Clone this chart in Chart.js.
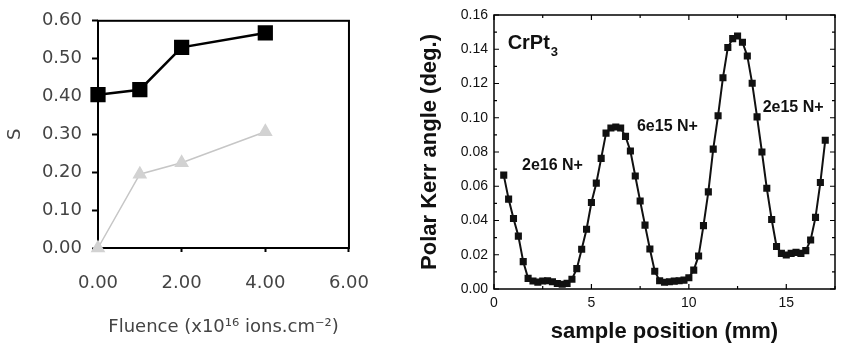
<!DOCTYPE html>
<html>
<head>
<meta charset="utf-8">
<script src="https://cdn.jsdelivr.net/npm/chart.js@4.4.1/dist/chart.umd.min.js"></script>
<style>
  body { margin: 0; background: #fff; }
  #wrap { position: relative; width: 841px; height: 347px; overflow: hidden; }
  #left { position: absolute; left: 0; top: 0; }
  #right { position: absolute; left: 390px; top: 0; }
</style>
</head>
<body>
<div id="wrap">
  <canvas id="left" width="390" height="347"></canvas>
  <canvas id="right" width="451" height="347"></canvas>
</div>
<script>
// left panel: S vs fluence
var fluence = [0, 1, 2, 4];
var sBlack = [0.405, 0.418, 0.530, 0.568];
var sGray = [0.00, 0.195, 0.225, 0.307];

// right panel: polar Kerr angle scan
var position = [0.5, 0.75, 1.0, 1.25, 1.5, 1.75, 2.0, 2.25, 2.5, 2.75,
  3.0, 3.25, 3.5, 3.75, 4.0, 4.25, 4.5, 4.75, 5.0, 5.25,
  5.5, 5.75, 6.0, 6.25, 6.5, 6.75, 7.0, 7.25, 7.5, 7.75,
  8.0, 8.25, 8.5, 8.75, 9.0, 9.25, 9.5, 9.75, 10.0, 10.25,
  10.5, 10.75, 11.0, 11.25, 11.5, 11.75, 12.0, 12.25, 12.5, 12.75,
  13.0, 13.25, 13.5, 13.75, 14.0, 14.25, 14.5, 14.75, 15.0, 15.25,
  15.5, 15.75, 16.0, 16.25, 16.5, 16.75, 17.0];
var kerr = [0.0665, 0.0525, 0.0412, 0.0309, 0.0160, 0.0062, 0.0047, 0.0040, 0.0047, 0.0048,
  0.0042, 0.0032, 0.0028, 0.0033, 0.0057, 0.0119, 0.0232, 0.0349, 0.0505, 0.0618,
  0.0763, 0.0910, 0.0940, 0.0946, 0.0940, 0.0891, 0.0806, 0.0660, 0.0514, 0.0373,
  0.0234, 0.0104, 0.0048, 0.0039, 0.0042, 0.0046, 0.0048, 0.0052, 0.0066, 0.0110,
  0.0193, 0.0370, 0.0567, 0.0817, 0.1012, 0.1234, 0.1410, 0.1462, 0.1477, 0.1441,
  0.1361, 0.1201, 0.1005, 0.0800, 0.0588, 0.0406, 0.0248, 0.0208, 0.0199, 0.0208,
  0.0214, 0.0208, 0.0224, 0.0286, 0.0418, 0.0622, 0.0869];
var doseLabels = ['2e16 N+', '6e15 N+', '2e15 N+'];

function pts(xs, ys) {
  return xs.map(function (x, i) { return { x: x, y: ys[i] }; });
}

// box around the plot area
var frame = {
  id: 'frame',
  beforeDatasetsDraw: function (chart, args, opts) {
    var ctx = chart.ctx, a = chart.chartArea;
    ctx.save();
    ctx.strokeStyle = '#000';
    ctx.lineWidth = opts.width || 2;
    ctx.strokeRect(a.left, a.top, a.right - a.left, a.bottom - a.top);
    ctx.restore();
  }
};

var grey = '#444';
var lfont = 'DejaVu Sans';

new Chart(document.getElementById('left'), {
  type: 'line',
  data: {
    datasets: [{
      data: pts(fluence, sBlack),
      borderColor: '#000',
      borderWidth: 2.5,
      pointStyle: 'rect',
      pointRadius: 9,
      pointBackgroundColor: '#000',
      pointBorderColor: '#000',
      clip: false
    }, {
      data: pts(fluence, sGray),
      borderColor: '#c6c6c6',
      borderWidth: 1.5,
      pointStyle: 'triangle',
      pointRadius: 7,
      pointBackgroundColor: '#d2d2d2',
      pointBorderColor: '#d2d2d2',
      clip: false
    }]
  },
  options: {
    responsive: false,
    animation: false,
    layout: { padding: { top: 15, right: 41, left: 0, bottom: 0 } },
    plugins: { legend: { display: false }, tooltip: { enabled: false }, frame: { width: 2 } },
    scales: {
      x: {
        type: 'linear', min: 0, max: 6,
        afterFit: function (s) { s.height = 99; },
        ticks: { stepSize: 2, padding: 21, color: grey, font: { family: lfont, size: 18 },
          callback: function (v) { return v.toFixed(2); } },
        grid: { drawOnChartArea: false, tickLength: 4, color: '#000', tickWidth: 2 },
        border: { display: false },
        title: { display: true, text: 'Fluence (x10¹⁶ ions.cm⁻²)', color: grey,
          font: { family: lfont, size: 18 }, padding: { top: 0, bottom: 9 } }
      },
      y: {
        min: 0, max: 0.6,
        afterFit: function (s) { s.width = 98; },
        ticks: { stepSize: 0.1, padding: 10, color: grey, font: { family: lfont, size: 18 },
          callback: function (v) { return v.toFixed(2); } },
        grid: { drawOnChartArea: false, tickLength: 6, color: '#000', tickWidth: 2 },
        border: { display: false },
        title: { display: true, text: 'S', color: grey,
          font: { family: lfont, size: 18 }, padding: { top: 5, bottom: 0 } }
      }
    }
  },
  plugins: [frame]
});

// inward tick marks and the text notes on the Kerr plot
var kerrDecor = {
  id: 'kerrDecor',
  afterDatasetsDraw: function (chart) {
    var ctx = chart.ctx, a = chart.chartArea;
    var xs = chart.scales.x, ys = chart.scales.y;
    ctx.save();
    ctx.strokeStyle = '#000';
    ctx.lineWidth = 1.2;
    ctx.beginPath();
    for (var v = 0; v <= 17.5; v += 2.5) {
      var px = xs.getPixelForValue(v);
      var len = (v % 5 === 0) ? 5 : 3;
      ctx.moveTo(px, a.bottom); ctx.lineTo(px, a.bottom - len);
      ctx.moveTo(px, a.top); ctx.lineTo(px, a.top + len);
    }
    for (var k = 0; k <= 16; k++) {
      var py = ys.getPixelForValue(k / 100);
      var l2 = (k % 2 === 0) ? 5 : 3;
      ctx.moveTo(a.left, py); ctx.lineTo(a.left + l2, py);
      ctx.moveTo(a.right, py); ctx.lineTo(a.right - l2, py);
    }
    ctx.stroke();

    ctx.fillStyle = '#111';
    ctx.textBaseline = 'middle';
    ctx.textAlign = 'center';
    ctx.font = 'bold 16px "Liberation Sans", Arial, sans-serif';
    var at = [[3.0, 0.0723], [8.9, 0.095], [15.35, 0.106]];
    doseLabels.forEach(function (t, i) {
      ctx.fillText(t, xs.getPixelForValue(at[i][0]), ys.getPixelForValue(at[i][1]));
    });

    ctx.textAlign = 'left';
    ctx.font = 'bold 20px "Liberation Sans", Arial, sans-serif';
    var cx = xs.getPixelForValue(0.7), cy = ys.getPixelForValue(0.1435);
    ctx.fillText('CrPt', cx, cy);
    var w = ctx.measureText('CrPt').width;
    ctx.font = 'bold 13px "Liberation Sans", Arial, sans-serif';
    ctx.fillText('3', cx + w + 1, cy + 9);
    ctx.restore();
  }
};

var rfont = 'Liberation Sans';

new Chart(document.getElementById('right'), {
  type: 'line',
  data: {
    datasets: [{
      data: pts(position, kerr),
      borderColor: '#111',
      borderWidth: 2,
      pointStyle: 'rect',
      pointRadius: 3.6,
      pointBackgroundColor: '#111',
      pointBorderColor: '#111',
      tension: 0
    }]
  },
  options: {
    responsive: false,
    animation: false,
    layout: { padding: { top: 15, right: 1, left: 0, bottom: 0 } },
    plugins: { legend: { display: false }, tooltip: { enabled: false }, frame: { width: 1.5 } },
    scales: {
      x: {
        type: 'linear', min: 0, max: 17.5,
        afterFit: function (s) { s.height = 58; },
        ticks: { stepSize: 5, includeBounds: false, padding: 6, color: '#111',
          font: { family: rfont, size: 14 } },
        grid: { display: false, drawTicks: false, tickLength: 0 },
        border: { display: false },
        title: { display: true, text: 'sample position (mm)', color: '#111',
          font: { family: rfont, size: 22, weight: 'bold' }, padding: { top: 0, bottom: 2 } }
      },
      y: {
        min: 0, max: 0.16,
        afterFit: function (s) { s.width = 104; },
        ticks: { stepSize: 0.02, padding: 6, color: '#111', font: { family: rfont, size: 14 },
          callback: function (v) { return v.toFixed(2); } },
        grid: { display: false, drawTicks: false, tickLength: 0 },
        border: { display: false },
        title: { display: true, text: 'Polar Kerr angle (deg.)', color: '#111',
          font: { family: rfont, size: 22, weight: 'bold' }, padding: { top: 27, bottom: 0 } }
      }
    }
  },
  plugins: [frame, kerrDecor]
});
</script>
</body>
</html>
